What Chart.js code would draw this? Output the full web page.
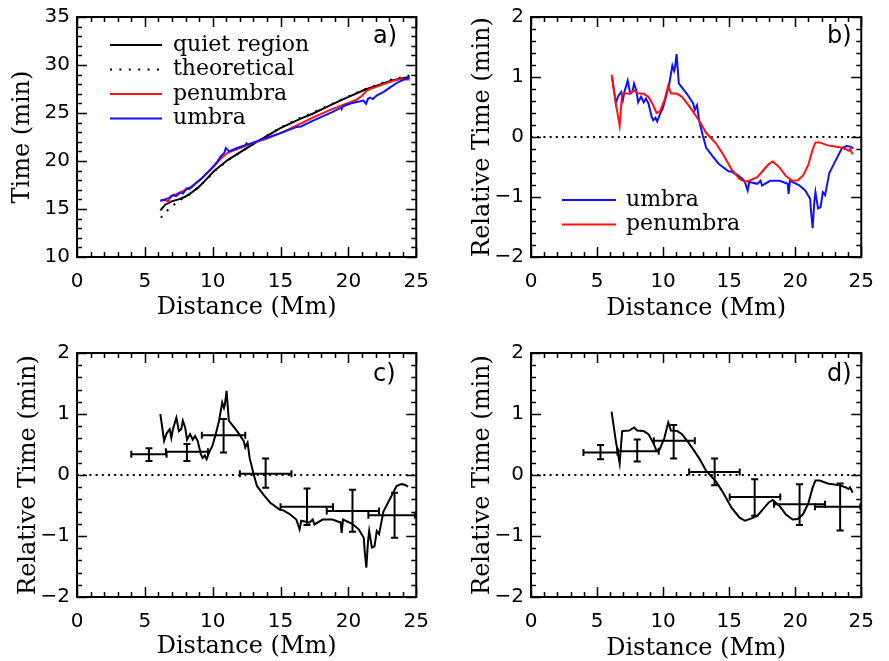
<!DOCTYPE html>
<html><head><meta charset="utf-8">
<script src="https://cdn.jsdelivr.net/npm/chart.js@4.4.0/dist/chart.umd.min.js"></script>
<style>
html,body{margin:0;padding:0;background:#fff;width:889px;height:661px;overflow:hidden}
canvas{position:absolute}
</style></head><body>
<canvas id="pa" width="444" height="330" style="left:0;top:0"></canvas>
<canvas id="pb" width="445" height="330" style="left:444px;top:0"></canvas>
<canvas id="pc" width="444" height="331" style="left:0;top:330px"></canvas>
<canvas id="pd" width="445" height="331" style="left:444px;top:330px"></canvas>
<script>
// ---------- data ----------
const xTicks = [0, 5, 10, 15, 20, 25];
const yTicksTime = [10, 15, 20, 25, 30, 35];
const yTicksRel = [-2, -1, 0, 1, 2];
const legendA = ['quiet region', 'theoretical', 'penumbra', 'umbra'];
const legendB = ['umbra', 'penumbra'];
const panelLabels = ['a)', 'b)', 'c)', 'd)'];

const distQuiet = [6.14, 6.5, 6.98, 7.6, 8.0, 8.43, 8.9, 9.4, 10.1, 11.1, 12.3, 13.5, 14.95, 16.4, 17.4, 18.8, 19.8, 21.2, 22.2, 23.2, 24.0, 24.5];
const timeQuiet = [14.85, 15.45, 15.8, 16.05, 16.3, 16.7, 17.2, 17.9, 18.95, 20.1, 21.15, 22.2, 23.4, 24.37, 24.95, 25.9, 26.55, 27.42, 27.9, 28.4, 28.62, 28.75];

const distTheory = [6.18, 6.62, 7.05, 7.6, 8.4, 9.4, 10.1, 11.1, 12.3, 13.5, 14.95, 16.4, 17.4, 18.8, 19.8, 21.2, 22.2, 23.2, 24.0, 24.5];
const timeTheory = [14.1, 14.8, 15.35, 15.95, 16.6, 17.85, 18.9, 20.05, 21.15, 22.2, 23.45, 24.45, 25.05, 25.95, 26.6, 27.45, 27.98, 28.5, 28.75, 28.9];

const distPenA = [6.14, 6.5, 6.74, 6.9, 7.3, 7.8, 8.4, 9.2, 10.1, 10.6, 11.1, 11.6, 12.3, 12.8, 14.0, 15.0, 16.4, 17.4, 18.8, 19.8, 20.5, 21.0, 21.3, 21.5, 22.2, 23.2, 23.8, 24.2, 24.5];
const timePenA = [15.9, 15.95, 15.75, 16.35, 16.55, 16.85, 17.3, 18.2, 19.45, 20.25, 20.85, 21.15, 21.5, 21.8, 22.35, 22.9, 23.85, 24.55, 25.4, 25.95, 26.3, 26.8, 27.25, 27.45, 27.8, 28.3, 28.55, 28.5, 28.5];

const distUmbA = [6.14, 6.5, 6.8, 7.1, 7.3, 7.6, 7.8, 8.1, 8.3, 8.7, 9.2, 9.9, 10.3, 10.6, 10.85, 10.97, 11.2, 11.8, 12.4, 12.5, 12.6, 13.7, 14.9, 16.2, 16.5, 17.4, 18.8, 19.45, 19.5, 19.6, 20.3, 21.1, 21.3, 21.45, 21.6, 21.8, 22.1, 22.6, 23.1, 23.65, 24.2, 24.5];
const timeUmbA = [15.85, 16.0, 16.15, 16.45, 16.35, 16.7, 16.6, 17.15, 17.1, 17.6, 18.2, 19.2, 19.85, 20.5, 20.85, 21.35, 21.0, 21.35, 21.65, 21.85, 21.7, 22.3, 22.85, 23.55, 23.6, 24.2, 25.1, 25.55, 25.4, 25.7, 26.05, 26.3, 25.95, 26.5, 26.6, 26.45, 26.85, 27.2, 27.7, 28.2, 28.55, 28.65];

const distUmbRel = [6.14, 6.42, 6.6, 6.83, 6.95, 7.07, 7.32, 7.51, 7.68, 7.8, 7.97, 8.11, 8.33, 8.53, 8.7, 8.89, 9.13, 9.25, 9.42, 9.55, 9.74, 9.98, 10.22, 10.47, 10.7, 10.83, 10.9, 11.02, 11.19, 11.3, 11.8, 12.28, 12.4, 12.57, 12.72, 13.0, 13.26, 13.74, 14.22, 14.95, 15.2, 15.67, 16.16, 16.4, 16.52, 17.13, 17.37, 17.49, 18.1, 18.82, 19.43, 19.5, 19.6, 20.28, 20.76, 21.13, 21.2, 21.32, 21.44, 21.53, 21.73, 21.92, 22.09, 22.26, 22.58, 23.18, 23.55, 23.9, 24.15, 24.4];
const relUmb = [1.0, 0.56, 0.68, 0.75, 0.61, 0.75, 0.94, 0.72, 0.75, 0.89, 0.78, 0.58, 0.67, 0.58, 0.64, 0.56, 0.34, 0.28, 0.32, 0.26, 0.37, 0.48, 0.67, 0.89, 1.19, 1.1, 1.16, 1.38, 0.89, 0.86, 0.72, 0.56, 0.45, 0.53, 0.28, 0.03, -0.18, -0.32, -0.45, -0.57, -0.58, -0.64, -0.73, -0.89, -0.75, -0.78, -0.73, -0.81, -0.73, -0.73, -0.78, -0.95, -0.73, -0.8, -0.89, -1.03, -1.25, -1.52, -1.1, -0.92, -1.19, -1.17, -0.92, -0.97, -0.6, -0.34, -0.18, -0.15, -0.16, -0.19];

const distPenRel = [6.1, 6.42, 6.71, 6.9, 7.44, 7.8, 8.04, 8.53, 8.89, 9.25, 9.5, 9.74, 10.1, 10.39, 10.59, 11.07, 11.43, 11.92, 12.28, 12.77, 13.25, 13.98, 14.46, 15.19, 15.79, 16.2, 16.6, 17.13, 17.6, 18.0, 18.3, 18.82, 19.3, 19.8, 20.2, 20.6, 21.0, 21.3, 21.53, 21.85, 22.46, 23.4, 23.79, 24.03, 24.15, 24.35];
const relPen = [1.04, 0.56, 0.19, 0.72, 0.73, 0.78, 0.73, 0.72, 0.67, 0.53, 0.4, 0.42, 0.61, 0.86, 0.73, 0.72, 0.67, 0.53, 0.42, 0.26, 0.07, -0.1, -0.26, -0.54, -0.7, -0.75, -0.72, -0.67, -0.55, -0.45, -0.41, -0.51, -0.65, -0.73, -0.72, -0.64, -0.46, -0.22, -0.09, -0.09, -0.14, -0.17, -0.2, -0.23, -0.2, -0.29];

const errCx = [5.3, 8.1, 10.8, 13.9, 16.95, 20.3, 23.4];
const errCy = [0.34, 0.38, 0.65, 0.02, -0.52, -0.59, -0.66];
const errCxLo = [4.0, 6.55, 9.2, 12.0, 15.0, 18.4, 21.47];
const errCxHi = [6.6, 9.65, 12.4, 15.8, 18.86, 22.25, 24.9];
const errCyLo = [0.23, 0.23, 0.37, -0.21, -0.82, -0.93, -1.03];
const errCyHi = [0.44, 0.51, 0.92, 0.27, -0.22, -0.24, -0.29];

const errDx = [5.26, 8.04, 10.8, 13.9, 16.93, 20.33, 23.4];
const errDy = [0.37, 0.39, 0.56, 0.05, -0.36, -0.48, -0.52];
const errDxLo = [3.97, 6.56, 9.3, 11.97, 15.04, 18.39, 21.49];
const errDxHi = [6.56, 9.67, 12.4, 15.8, 18.87, 22.26, 24.93];
const errDyLo = [0.26, 0.22, 0.27, -0.17, -0.67, -0.82, -0.91];
const errDyHi = [0.49, 0.58, 0.82, 0.27, -0.07, -0.15, -0.14];

// ---------- helpers ----------
const RED = '#ff1010', BLUE = '#1010ff', BLACK = '#000';
const pts = (xs, ys) => xs.map((x, i) => ({x: x, y: ys[i]}));
function zeroLine() {
  return {data: [{x: xTicks[0], y: 0}, {x: xTicks[xTicks.length - 1], y: 0}], borderColor: BLACK, borderWidth: 2, borderDash: [2, 4.2], order: 9};
}
function errDatasets(xc, yc, xlo, xhi, ylo, yhi) {
  const h = [], v = [];
  xc.forEach((x, i) => {
    h.push({x: xlo[i], y: yc[i]}, {x: xhi[i], y: yc[i]}, {x: xhi[i], y: null});
    v.push({x: x, y: ylo[i]}, {x: x, y: yhi[i]}, {x: x, y: null});
  });
  const common = {borderColor: BLACK, borderWidth: 2, pointStyle: 'line', pointRadius: 3.5, pointBorderWidth: 2, pointBorderColor: BLACK, spanGaps: false, order: 0};
  return [Object.assign({data: h, pointRotation: 90}, common), Object.assign({data: v, pointRotation: 0}, common)];
}
const fmt = v => v < 0 ? '\u2212' + Math.abs(v) : String(v);

const frameTicks = {
  id: 'frameTicks',
  afterDatasetsDraw(chart, args, o) {
    const {ctx, chartArea: a, scales: {x, y}} = chart;
    ctx.save();
    ctx.strokeStyle = BLACK; ctx.lineWidth = 1.5; ctx.beginPath();
    const nx = Math.round((x.max - x.min) / o.xMinor);
    for (let i = 0; i <= nx; i++) {
      const L = (i % o.xPer === 0) ? 10 : 5;
      const p = Math.round(x.getPixelForValue(x.min + i * o.xMinor)) + 0.5;
      ctx.moveTo(p, a.bottom); ctx.lineTo(p, a.bottom - L);
      ctx.moveTo(p, a.top); ctx.lineTo(p, a.top + L);
    }
    const ny = Math.round((y.max - y.min) / o.yMinor);
    for (let i = 0; i <= ny; i++) {
      const L = (i % o.yPer === 0) ? 10 : 5;
      const p = Math.round(y.getPixelForValue(y.min + i * o.yMinor)) + 0.5;
      ctx.moveTo(a.left, p); ctx.lineTo(a.left + L, p);
      ctx.moveTo(a.right, p); ctx.lineTo(a.right - L, p);
    }
    ctx.stroke();
    ctx.lineWidth = 2;
    ctx.strokeRect(a.left, a.top, a.right - a.left, a.bottom - a.top);
    ctx.restore();
  }
};

const inLegend = {
  id: 'inLegend',
  afterDraw(chart, args, o) {
    if (!o.items) return;
    const {ctx} = chart;
    ctx.save();
    ctx.font = '22px "DejaVu Serif"';
    ctx.textBaseline = 'middle';
    ctx.fillStyle = BLACK;
    o.items.forEach((it, i) => {
      const y = o.y + i * o.row;
      ctx.strokeStyle = it.color; ctx.lineWidth = 2;
      ctx.setLineDash(it.dash || []);
      ctx.beginPath(); ctx.moveTo(o.x, y); ctx.lineTo(o.x + o.len, y); ctx.stroke();
      ctx.setLineDash([]);
      ctx.fillText(it.label, o.x + o.len + o.gap, y);
    });
    if (o.tag) {
      ctx.font = '24px "DejaVu Sans"';
      ctx.fillText(o.tag, o.tagX, o.tagY);
    }
    ctx.restore();
  }
};

function makeChart(id, cfg) {
  const el = document.getElementById(id);
  const W = el.width, H = el.height, p = cfg.plot;
  return new Chart(el, {
    type: 'line',
    data: {datasets: cfg.datasets},
    options: {
      responsive: false, animation: false, devicePixelRatio: 1,
      layout: {padding: {left: 0, top: p.t, right: W - p.r, bottom: 0}},
      elements: {point: {radius: 0}, line: {tension: 0, borderWidth: 2, fill: false}},
      plugins: {
        legend: {display: false}, tooltip: {enabled: false},
        frameTicks: {xMinor: 1, xPer: 5, yMinor: cfg.yMinor, yPer: cfg.yPer},
        inLegend: cfg.legend
      },
      scales: {
        x: {
          type: 'linear', min: 0, max: 25,
          afterBuildTicks: s => { s.ticks = xTicks.map(v => ({value: v})); },
          afterFit: s => { s.height = H - p.b; },
          grid: {display: false, drawTicks: false}, border: {display: false},
          ticks: {color: BLACK, font: {family: 'DejaVu Sans', size: 20, lineHeight: 1}, padding: 15, maxRotation: 0, autoSkip: false, callback: fmt},
          title: {display: true, text: 'Distance (Mm)', color: BLACK, font: {family: 'DejaVu Serif', size: 24, lineHeight: 1}, padding: {top: 0, bottom: cfg.xTitlePad}}
        },
        y: {
          type: 'linear', min: cfg.ymin, max: cfg.ymax,
          afterBuildTicks: s => { s.ticks = cfg.yTicks.map(v => ({value: v})); },
          afterFit: s => { s.width = p.l; },
          grid: {display: false, drawTicks: false}, border: {display: false},
          ticks: {color: BLACK, font: {family: 'DejaVu Sans', size: 20, lineHeight: 1}, padding: 7, autoSkip: false, callback: fmt},
          title: {display: true, text: cfg.yTitle, color: BLACK, font: {family: 'DejaVu Serif', size: 24, lineHeight: 1}, padding: {top: cfg.yTitlePad, bottom: 0}}
        }
      }
    },
    plugins: [frameTicks, inLegend]
  });
}

// ---------- panel a ----------
makeChart('pa', {
  plot: {l: 77, t: 13, r: 422, b: 257},
  ymin: 10, ymax: 35, yTicks: yTicksTime, yMinor: 1, yPer: 5,
  yTitle: 'Time (min)', yTitlePad: 11, xTitlePad: 10,
  datasets: [
    {label: legendA[0], data: pts(distQuiet, timeQuiet), borderColor: BLACK, order: 3},
    {label: legendA[1], data: pts(distTheory, timeTheory), borderColor: BLACK, borderDash: [2, 7], order: 4},
    {label: legendA[2], data: pts(distPenA, timePenA), borderColor: RED, order: 2},
    {label: legendA[3], data: pts(distUmbA, timeUmbA), borderColor: BLUE, order: 1}
  ],
  legend: {x: 110, y: 45, row: 24.5, len: 52, gap: 11, tag: panelLabels[0], tagX: 373, tagY: 37,
    items: [{label: legendA[0], color: BLACK}, {label: legendA[1], color: BLACK, dash: [2, 7.4]}, {label: legendA[2], color: RED}, {label: legendA[3], color: BLUE}]}
});

// ---------- panel b ----------
makeChart('pb', {
  plot: {l: 87, t: 13, r: 431, b: 257},
  ymin: -2, ymax: 2, yTicks: yTicksRel, yMinor: 0.2, yPer: 5,
  yTitle: 'Relative Time (min)', yTitlePad: 27, xTitlePad: 9,
  datasets: [
    zeroLine(),
    {label: legendB[0], data: pts(distUmbRel, relUmb), borderColor: BLUE, order: 2},
    {label: legendB[1], data: pts(distPenRel, relPen), borderColor: RED, order: 1}
  ],
  legend: {x: 118, y: 200, row: 24.5, len: 54, gap: 10, tag: panelLabels[1], tagX: 383, tagY: 37,
    items: [{label: legendB[0], color: BLUE}, {label: legendB[1], color: RED}]}
});

// ---------- panel c ----------
makeChart('pc', {
  plot: {l: 77, t: 23, r: 422, b: 267},
  ymin: -2, ymax: 2, yTicks: yTicksRel, yMinor: 0.2, yPer: 5,
  yTitle: 'Relative Time (min)', yTitlePad: 17, xTitlePad: 2,
  datasets: [
    zeroLine(),
    {label: 'umbra', data: pts(distUmbRel, relUmb), borderColor: BLACK, order: 1}
  ].concat(errDatasets(errCx, errCy, errCxLo, errCxHi, errCyLo, errCyHi)),
  legend: {items: [], tag: panelLabels[2], tagX: 373, tagY: 45}
});

// ---------- panel d ----------
makeChart('pd', {
  plot: {l: 87, t: 23, r: 431, b: 267},
  ymin: -2, ymax: 2, yTicks: yTicksRel, yMinor: 0.2, yPer: 5,
  yTitle: 'Relative Time (min)', yTitlePad: 27, xTitlePad: 0,
  datasets: [
    zeroLine(),
    {label: 'penumbra', data: pts(distPenRel, relPen), borderColor: BLACK, order: 1}
  ].concat(errDatasets(errDx, errDy, errDxLo, errDxHi, errDyLo, errDyHi)),
  legend: {items: [], tag: panelLabels[3], tagX: 383, tagY: 45}
});
</script>
</body></html>
